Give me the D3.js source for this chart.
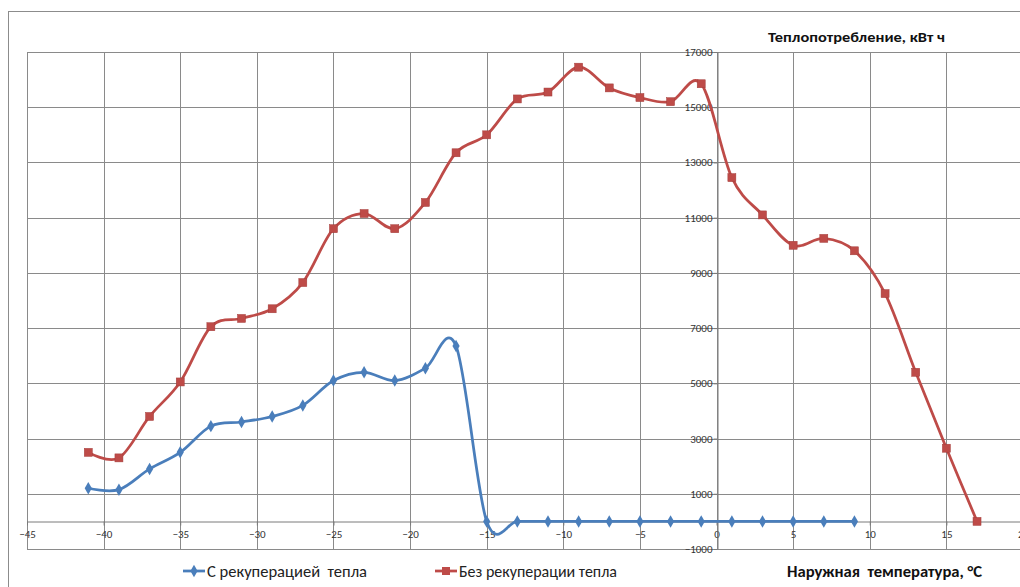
<!DOCTYPE html>
<html>
<head>
<meta charset="utf-8">
<script src="https://cdn.jsdelivr.net/npm/d3@7"></script>
<style>
    body { margin: 0; background: #fff; }
    svg text { font-family: Calibri, Carlito, "Liberation Sans", Arial, sans-serif; white-space: pre; }
</style>
</head>
<body>
<div id="chart"></div>
<script>
// temperatures, °C
let tempsRecup = [-41, -39, -37, -35, -33, -31, -29, -27, -25, -23, -21, -19, -17, -15, -13, -11, -9, -7, -5, -3, -1, 1, 3, 5, 7, 9];
let tempsNoRecup = [-41, -39, -37, -35, -33, -31, -29, -27, -25, -23, -21, -19, -17, -15, -13, -11, -9, -7, -5, -3, -1, 1, 3, 5, 7, 9, 11, 13, 15, 17];

// heat consumption, kWh
let heatRecup = [1200, 1150, 1900, 2500, 3450, 3600, 3800, 4200, 5100, 5400, 5100, 5550, 6350, 0, 0, 0, 0, 0, 0, 0, 0, 0, 0, 0, 0, 0];
let heatNoRecup = [2500, 2300, 3800, 5050, 7050, 7350, 7700, 8650, 10600, 11150, 10600, 11550, 13350, 14000, 15300, 15550, 16450, 15700, 15350, 15200, 15850, 12450, 11100, 10000, 10250, 9800, 8250, 5400, 2650, 0];

let xTicks = [-45, -40, -35, -30, -25, -20, -15, -10, -5, 0, 5, 10, 15, 20];
let yTicks = [-1000, 1000, 3000, 5000, 7000, 9000, 11000, 13000, 15000, 17000];

let seriesNames = ["С рекуперацией  тепла", "Без рекуперации тепла"];
let yTitle = "Теплопотребление, кВт ч";
let xTitle = "Наружная  температура, °С";

/* chart */
let margin = {top: 52, left: 27, right: -3, bottom: 38};
let width = 1020 - margin.left - margin.right;
let height = 587 - margin.top - margin.bottom;

let svg = d3.select("#chart").append("svg")
    .attr("width", 1020)
    .attr("height", 587);

// outer chart border
svg.append("rect")
    .attr("x", 8.5).attr("y", 11.5)
    .attr("width", 1030).attr("height", 600)
    .style("fill", "none")
    .style("stroke", "#8c8c8c")
    .style("stroke-width", 1);

let g = svg.append("g")
    .attr("transform", `translate(${margin.left}, ${margin.top})`);

let x = d3.scaleLinear().domain([-45, 20]).range([0, width]);
let y = d3.scaleLinear().domain([-1000, 17000]).range([height, 0]);

// grid
g.selectAll(".hgrid").data(yTicks).enter()
    .append("line")
    .attr("x1", 0).attr("x2", width)
    .attr("y1", d => Math.round(y(d)) + 0.5).attr("y2", d => Math.round(y(d)) + 0.5)
    .style("stroke", "#8a8a8a").style("stroke-width", 1);

g.selectAll(".vgrid").data(xTicks).enter()
    .append("line")
    .attr("x1", d => Math.round(x(d)) + 0.5).attr("x2", d => Math.round(x(d)) + 0.5)
    .attr("y1", 0).attr("y2", height)
    .style("stroke", "#8a8a8a").style("stroke-width", 1);

// x axis along zero
let xAxis = g.append("g")
    .attr("transform", `translate(0, ${Math.round(y(0)) + 0.5})`)
    .call(d3.axisBottom(x).tickValues(xTicks).tickSize(4).tickSizeOuter(0).tickFormat(d3.format("d")));

// y axis along zero
let yAxis = g.append("g")
    .attr("transform", `translate(${Math.round(x(0)) + 0.5}, 0)`)
    .call(d3.axisLeft(y).tickValues(yTicks).tickSize(4).tickSizeOuter(0).tickFormat(d3.format("d")));

[xAxis, yAxis].forEach(a => {
    a.select(".domain").style("stroke", "#7a7a7a");
    a.selectAll(".tick line").style("stroke", "#7a7a7a");
    a.selectAll(".tick text")
        .style("fill", "#333")
        .style("font-size", "11px");
});
xAxis.selectAll(".tick text").attr("dy", "0.9em");
yAxis.selectAll(".tick text").attr("x", -5);

// series
let recup = tempsRecup.map((t, i) => ({t: t, v: heatRecup[i]}));
let noRecup = tempsNoRecup.map((t, i) => ({t: t, v: heatNoRecup[i]}));

let line = d3.line()
    .x(d => x(d.t))
    .y(d => y(d.v))
    .curve(d3.curveCardinal.tension(0));

let blue = "#4a7ebb";
let red = "#be4b48";

g.append("path").datum(noRecup)
    .attr("d", line)
    .style("fill", "none").style("stroke", red).style("stroke-width", 2.75);

g.append("path").datum(recup)
    .attr("d", line)
    .style("fill", "none").style("stroke", blue).style("stroke-width", 2.75);

g.selectAll(".sq").data(noRecup).enter()
    .append("rect")
    .attr("x", d => x(d.t) - 4).attr("y", d => y(d.v) - 4)
    .attr("width", 8).attr("height", 8)
    .style("fill", red).style("stroke", "#a33d3a").style("stroke-width", 0.5);

let diamond = d3.symbol().type(d3.symbolDiamond).size(45);
g.selectAll(".dm").data(recup).enter()
    .append("path")
    .attr("d", diamond)
    .attr("transform", d => `translate(${x(d.t)}, ${y(d.v)})`)
    .style("fill", blue);

// titles
svg.append("text")
    .attr("x", 768).attr("y", 42)
    .attr("textLength", 177).attr("lengthAdjust", "spacingAndGlyphs")
    .style("font-size", "14px").style("font-weight", "bold").style("fill", "#111")
    .text(yTitle);

svg.append("text")
    .attr("x", 787).attr("y", 577)
    .attr("textLength", 195).attr("lengthAdjust", "spacingAndGlyphs")
    .style("font-size", "16px").style("font-weight", "bold").style("fill", "#111")
    .text(xTitle);

// legend
let legend = svg.append("g");
let legendItems = [
    {name: seriesNames[0], color: blue, x: 183, marker: "diamond", len: 160},
    {name: seriesNames[1], color: red, x: 435, marker: "square", len: 158}
];
legendItems.forEach(d => {
    let lg = legend.append("g").attr("transform", `translate(${d.x}, 571)`);
    lg.append("line")
        .attr("x1", 0).attr("x2", 22).attr("y1", 0).attr("y2", 0)
        .style("stroke", d.color).style("stroke-width", 2.75);
    if (d.marker === "diamond") {
        lg.append("path").attr("d", diamond).attr("transform", "translate(11,0)").style("fill", d.color);
    } else {
        lg.append("rect").attr("x", 7).attr("y", -4).attr("width", 8).attr("height", 8).style("fill", d.color);
    }
    lg.append("text")
        .attr("x", 24).attr("dy", "0.35em")
        .attr("textLength", d.len).attr("lengthAdjust", "spacingAndGlyphs")
        .style("font-size", "16.5px").style("fill", "#222")
        .text(d.name);
});
</script>
</body>
</html>
